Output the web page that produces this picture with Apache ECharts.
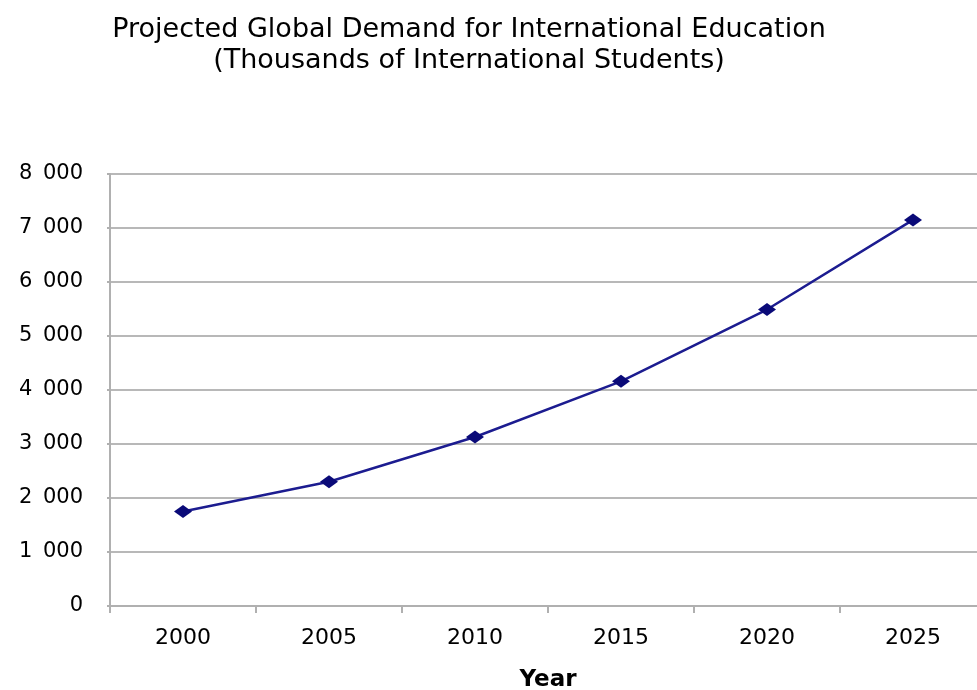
<!DOCTYPE html>
<html><head><meta charset="utf-8">
<script src="https://cdn.jsdelivr.net/npm/echarts@6/dist/echarts.min.js"></script>
<style>html,body{margin:0;padding:0;background:#fff}#c{width:977px;height:690px}</style>
</head><body><div id="c"></div>
<script>
const years = ['2000','2005','2010','2015','2020','2025'];
const students = [1750, 2300, 3130, 4160, 5490, 7150];
const titleLines = ['Projected Global Demand for International Education','(Thousands of International Students)'];
const xAxisName = 'Year';

const FONT = 'DejaVu Sans, Arial, sans-serif';
const chart = echarts.init(document.getElementById('c'));
chart.setOption({
  animation:false,
  backgroundColor:'#fff',
  title:{
    text: titleLines.join('\n'),
    left: 464, top: 9, textAlign:'center',
    textStyle:{fontFamily:FONT, fontSize:27, fontWeight:'normal', color:'#000', lineHeight:31}
  },
  grid:{left:110, top:174, width:876, height:432, outerBoundsMode:'none', containLabel:false},
  xAxis:{
    type:'category', data: years, boundaryGap:true,
    name: xAxisName, nameLocation:'middle', nameGap:63,
    nameTextStyle:{fontFamily:FONT, fontSize:23, fontWeight:'bold', color:'#000'},
    axisLine:{lineStyle:{color:'#b0b0b0', width:2}},
    axisTick:{show:true, interval:0, length:7, lineStyle:{color:'#b0b0b0', width:2}},
    axisLabel:{fontFamily:FONT, fontSize:22, color:'#000', margin:21}
  },
  yAxis:{
    type:'value', min:0, max:8000, interval:1000,
    axisLine:{show:true, lineStyle:{color:'#b0b0b0', width:2}},
    axisTick:{show:true, length:3, lineStyle:{color:'#b0b0b0', width:2}},
    splitLine:{lineStyle:{color:'#b8b8b8', width:2}},
    axisLabel:{fontFamily:FONT, fontSize:21, color:'#000', margin:27,
      formatter: v => String(v).replace(/\B(?=(\d{3})+(?!\d))/g,'\u2002')}
  },
  series:[{
    type:'line', data: students,
    symbol:'diamond', symbolSize:[18,13],
    lineStyle:{color:'#1c1c90', width:2.5},
    itemStyle:{color:'#0a0a78'}
  }]
});
</script></body></html>
